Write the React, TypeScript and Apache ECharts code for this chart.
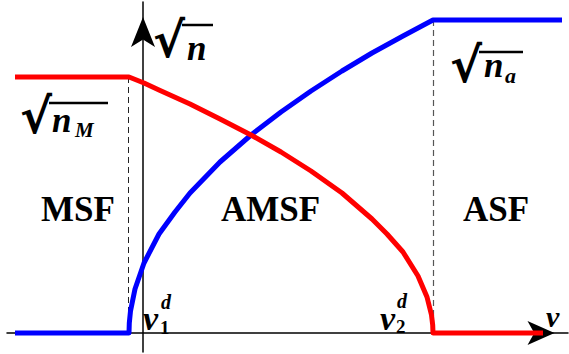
import React, { useEffect, useRef } from "react";
import * as echarts from "echarts";

// x in units where the vertical axis is at 0; y in units of sqrt(n)
const blueX = [-1.28, -0.14, -0.137, -0.125, -0.08, 0.01, 0.16, 0.32, 0.47, 0.77, 1.08, 1.38, 1.68, 1.99, 2.29, 2.6, 2.9, 4.19];
const blueY = [0, 0, 0.1, 0.22, 0.44, 0.7, 0.99, 1.21, 1.4, 1.71, 1.98, 2.21, 2.42, 2.62, 2.8, 2.97, 3.13, 3.13];
const redX = [-1.28, -0.14, 0.01, 0.16, 0.47, 0.77, 1.08, 1.38, 1.68, 1.99, 2.29, 2.44, 2.6, 2.75, 2.84, 2.885, 2.897, 2.9, 4.0];
const redY = [2.56, 2.56, 2.5, 2.43, 2.29, 2.14, 1.98, 1.81, 1.62, 1.4, 1.14, 0.99, 0.81, 0.57, 0.36, 0.18, 0.08, 0, 0];
const dash1X = [-0.145, -0.145];
const dash1Y = [2.56, 0];
const dash2X = [2.905, 2.905];
const dash2Y = [3.13, 0];
const regionLabels = ["MSF", "AMSF", "ASF"];

const zip = (xs: number[], ys: number[]) => xs.map((x, i) => [x, ys[i]]);

const SERIF = "Liberation Serif";

function txt(text: string, x: number, y: number, size: number, italic = false, family = SERIF) {
  return {
    type: "text",
    x,
    y,
    z: 10,
    style: {
      text,
      fill: "#000",
      fontFamily: family,
      fontSize: size,
      fontWeight: "bold",
      fontStyle: italic ? "italic" : "normal",
      align: "left",
      verticalAlign: "middle",
    },
  };
}

function vline(x1: number, y1: number, x2: number, y2: number) {
  return {
    type: "line",
    z: 10,
    shape: { x1, y1, x2, y2 },
    style: { stroke: "#000", lineWidth: 2.5 },
  };
}

export default function App() {
  const ref = useRef<HTMLDivElement>(null);
  useEffect(() => {
    if (!ref.current) return;
    const chart = echarts.init(ref.current, undefined, { renderer: "svg" });
    chart.setOption({
      animation: false,
      backgroundColor: "#fff",
      grid: { left: 7, right: 1, top: 2, bottom: 2, containLabel: false },
      xAxis: {
        type: "value",
        min: -1.36,
        max: 4.25,
        axisLine: {
          show: true,
          onZero: true,
          symbol: ["none", "arrow"],
          symbolSize: [18, 27],
          symbolOffset: [0, -13.5],
          lineStyle: { color: "#000", width: 1.5 },
        },
        axisTick: { show: false },
        axisLabel: { show: false },
        splitLine: { show: false },
      },
      yAxis: {
        type: "value",
        min: -0.19,
        max: 3.31,
        axisLine: {
          show: true,
          onZero: true,
          symbol: ["none", "arrow"],
          symbolSize: [18, 30],
          symbolOffset: [0, -15],
          lineStyle: { color: "#000", width: 1.5 },
        },
        axisTick: { show: false },
        axisLabel: { show: false },
        splitLine: { show: false },
      },
      series: [
        {
          type: "line",
          data: zip(dash1X, dash1Y),
          symbol: "none",
          z: 1,
          lineStyle: { color: "#222", width: 1, type: [6, 4] },
        },
        {
          type: "line",
          data: zip(dash2X, dash2Y),
          symbol: "none",
          z: 1,
          lineStyle: { color: "#555", width: 1.2, type: [6, 4] },
        },
        {
          type: "line",
          data: zip(blueX, blueY),
          symbol: "none",
          z: 3,
          lineStyle: { color: "#0000ff", width: 5, join: "round" },
        },
        {
          type: "line",
          data: zip(redX, redY),
          symbol: "none",
          z: 4,
          lineStyle: { color: "#ff0000", width: 5, join: "round" },
        },
      ],
      graphic: [
        txt(regionLabels[0], 41, 209, 35),
        txt(regionLabels[1], 221, 209, 35),
        txt(regionLabels[2], 463, 209, 35),
        // sqrt(n)
        txt("√", 153, 40, 48, false, "DejaVu Sans"),
        vline(182, 25, 213, 25),
        txt("n", 187, 48, 35, true),
        // sqrt(n_M)
        txt("√", 20, 116, 48, false, "DejaVu Sans"),
        vline(49, 103, 108, 103),
        txt("n", 52, 120, 35, true),
        txt("M", 75, 130, 21, true),
        // sqrt(n_a)
        txt("√", 450, 65, 48, false, "DejaVu Sans"),
        vline(479, 52, 523, 52),
        txt("n", 484, 65, 35, true),
        txt("a", 505, 75, 22, true),
        // nu_1^d
        txt("ν", 143, 318, 34, true),
        txt("d", 161, 302, 20, true),
        txt("1", 160, 327, 19),
        // nu_2^d
        txt("ν", 380, 318, 34, true),
        txt("d", 397, 301, 20, true),
        txt("2", 396, 326, 19),
        // axis nu
        txt("ν", 546, 316, 30, true),
      ],
    });
    return () => chart.dispose();
  }, []);
  return <div ref={ref} style={{ position: "absolute", left: 0, top: 0, width: 569, height: 354 }} />;
}
